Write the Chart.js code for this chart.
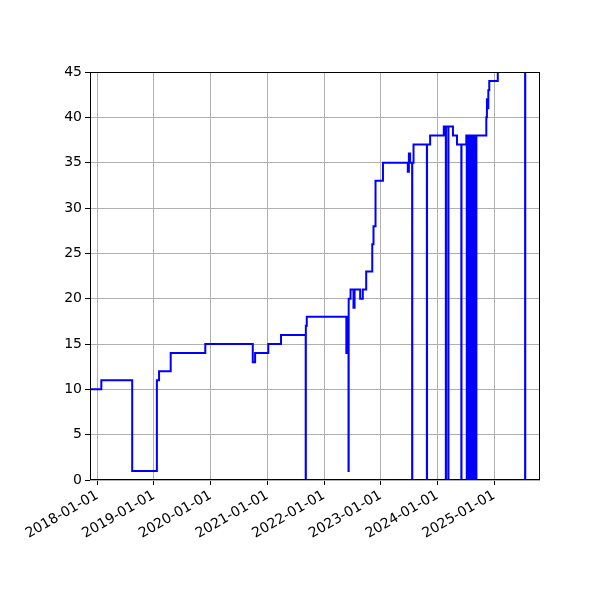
<!DOCTYPE html>
<html>
<head>
<meta charset="utf-8">
<script src="https://cdn.jsdelivr.net/npm/chart.js@4"></script>
<style>
  body { margin: 0; background: #fff; }
</style>
</head>
<body>
<canvas id="chart" width="600" height="600"></canvas>
<script>
// Werte (Stufenverlauf)
const dates = [
  '2017-11-15', '2018-01-27', '2018-08-14', '2019-01-20', '2019-02-03',
  '2019-04-19', '2019-11-28', '2020-09-29', '2020-10-14', '2021-01-07',
  '2021-03-30', '2021-09-05', '2021-09-06', '2021-09-12', '2022-05-25',
  '2022-05-28', '2022-06-08', '2022-06-09', '2022-06-21', '2022-07-10',
  '2022-07-17', '2022-08-22', '2022-09-08', '2022-09-30', '2022-11-08',
  '2022-11-16', '2022-11-29', '2023-01-16', '2023-06-25', '2023-07-02',
  '2023-07-10', '2023-07-23', '2023-07-24', '2023-08-01', '2023-10-26',
  '2023-10-27', '2023-11-16', '2024-02-12', '2024-02-25', '2024-02-26',
  '2024-03-12', '2024-03-13', '2024-04-11', '2024-05-07', '2024-06-04',
  '2024-06-05', '2024-07-06', '2024-07-09', '2024-07-10', '2024-07-19',
  '2024-07-20', '2024-08-01', '2024-08-02', '2024-08-14', '2024-08-15',
  '2024-08-26', '2024-08-27', '2024-09-08', '2024-09-09', '2024-11-12',
  '2024-11-16', '2024-11-20', '2024-11-25', '2024-12-01', '2025-01-25',
  '2025-07-20', '2025-07-21'
];
const values = [
  10, 11, 1, 11, 12,
  14, 15, 13, 14, 15,
  16, 0, 17, 18, 14,
  18, 1, 20, 21, 19,
  21, 20, 21, 23, 26,
  28, 33, 35, 34, 36,
  35, 0, 35, 37, 0,
  37, 38, 39, 0, 39,
  0, 39, 38, 37, 0,
  37, 38, 0, 38, 0,
  38, 0, 38, 0, 38,
  0, 38, 0, 38, 40,
  42, 41, 43, 44, 47,
  0, 47
];
const tickYears = [2018, 2019, 2020, 2021, 2022, 2023, 2024, 2025];
const xStart = '2017-11-15';
const xEnd = '2025-10-24';

const toMs = (s) => Date.parse(s + 'T00:00:00Z');
const points = dates.map((d, i) => ({ x: toMs(d), y: values[i] }));
const font = { family: 'DejaVu Sans', size: 14 };

// Rahmen um die Achsenfläche wie bei matplotlib
const frame = {
  id: 'frame',
  afterDraw(chart) {
    const a = chart.chartArea;
    const ctx = chart.ctx;
    ctx.save();
    ctx.strokeStyle = '#000';
    ctx.lineWidth = 1;
    ctx.strokeRect(a.left + 0.5, a.top + 0.5, a.right - a.left - 1, a.bottom - a.top - 1);
    ctx.restore();
  }
};

new Chart(document.getElementById('chart'), {
  type: 'line',
  data: {
    datasets: [{
      data: points,
      borderColor: '#0000ff',
      borderWidth: 2,
      pointRadius: 0,
      stepped: true,
      fill: false,
      clip: 0
    }]
  },
  options: {
    responsive: false,
    devicePixelRatio: 1,
    animation: false,
    layout: { padding: { top: 72, right: 60, left: 0, bottom: 0 } },
    plugins: { legend: { display: false }, tooltip: { enabled: false } },
    scales: {
      x: {
        type: 'linear',
        min: toMs(xStart),
        max: toMs(xEnd),
        afterBuildTicks: (scale) => {
          scale.ticks = tickYears.map(y => ({ value: Date.UTC(y, 0, 1) }));
        },
        afterFit: (scale) => { scale.height = 120; },
        grid: { color: '#b0b0b0', lineWidth: 1, tickColor: '#000', tickLength: 5 },
        border: { display: false },
        ticks: {
          autoSkip: false,
          minRotation: 30,
          maxRotation: 30,
          color: '#000',
          font: font,
          padding: 2,
          callback: (v) => new Date(v).toISOString().slice(0, 10)
        }
      },
      y: {
        min: 0,
        max: 45,
        afterFit: (scale) => { scale.width = 90; },
        grid: { color: '#b0b0b0', lineWidth: 1, tickColor: '#000', tickLength: 5 },
        border: { display: false },
        ticks: { stepSize: 5, color: '#000', font: font, padding: 3 }
      }
    }
  },
  plugins: [frame]
});
</script>
</body>
</html>
